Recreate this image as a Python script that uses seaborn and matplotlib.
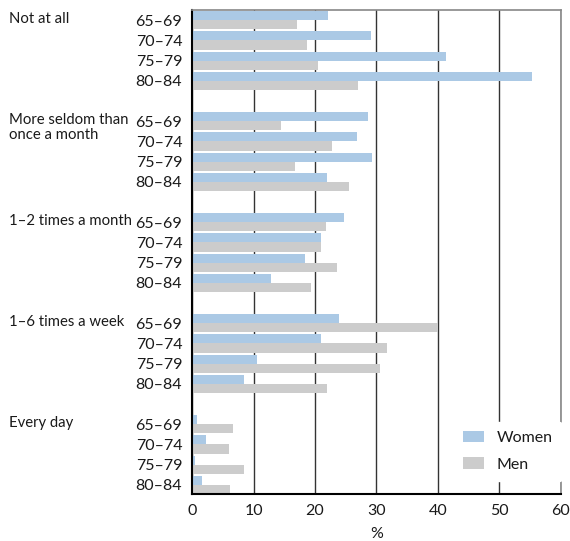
import numpy as np
import pandas as pd
from matplotlib import pyplot as plt
from matplotlib.transforms import blended_transform_factory
import seaborn as sns

# how often respondents do the activity, by age group and gender (%)
categories = ["Not at all", "More seldom than\nonce a month", "1\u20132 times a month",
              "1\u20136 times a week", "Every day"]
ages = ["65\u201369", "70\u201374", "75\u201379", "80\u201384"]

women = [
    [22.1, 29.1, 41.3, 55.3],
    [28.6, 26.8, 29.3, 22.0],
    [24.7, 21.0, 18.4, 12.8],
    [23.9, 21.0, 10.6, 8.5],
    [0.8, 2.3, 0.5, 1.6],
]
men = [
    [17.0, 18.7, 20.5, 27.0],
    [14.5, 22.8, 16.7, 25.5],
    [21.8, 21.0, 23.6, 19.3],
    [40.0, 31.7, 30.6, 22.0],
    [6.7, 6.0, 8.5, 6.2],
]

rows = []
for ci, cat in enumerate(categories):
    for ai, age in enumerate(ages):
        pos = ci * (len(ages) + 1) + ai
        rows.append({"pos": pos, "Age": age, "Gender": "Women", "value": women[ci][ai]})
        rows.append({"pos": pos, "Age": age, "Gender": "Men", "value": men[ci][ai]})
df = pd.DataFrame(rows)

sns.set_style("white")
plt.rcParams['font.family'] = ['Lato', 'DejaVu Sans']
fs = 11.5
txt = "#1a1a1a"

fig = plt.figure(figsize=(5.7, 5.41), dpi=100)
ax = fig.add_axes([0.337, 0.087, 0.647, 0.895])

sns.barplot(data=df, x="value", y="pos", hue="Gender", orient="h", native_scale=True,
            palette={"Women": "#abc9e5", "Men": "#cccccc"}, width=0.9,
            saturation=1, linewidth=0, ax=ax, legend=True)

ax.set_xlim(0, 60)
ax.set_ylim(23.45, -0.52)
ax.set_xticks(range(0, 61, 10))
ax.xaxis.grid(True, color="#333333", linewidth=1.0)
ax.set_axisbelow(True)

ax.set_yticks(df["pos"].unique())
ax.set_yticklabels(ages * len(categories))
ax.tick_params(axis="both", length=0, labelsize=fs, colors=txt)
ax.tick_params(axis="y", pad=7)
ax.tick_params(axis="x", pad=7)
ax.set_ylabel("")
ax.set_xlabel("%", fontsize=fs, color=txt, labelpad=7)

for side in ["left", "bottom"]:
    ax.spines[side].set_color("black")
    ax.spines[side].set_linewidth(1.5)
for side in ["top", "right"]:
    ax.spines[side].set_color("#888888")
    ax.spines[side].set_linewidth(1.2)

trans = blended_transform_factory(fig.transFigure, ax.transData)
for ci, cat in enumerate(categories):
    ax.text(9 / 570, ci * (len(ages) + 1) - 0.42, cat, transform=trans, ha="left", va="top",
            fontsize=10.7, color=txt, linespacing=1.15)

leg = ax.legend(loc="lower right", bbox_to_anchor=(1.025, 0.01), frameon=True, fontsize=fs,
                handlelength=1.3, handleheight=0.7, labelspacing=0.75, borderpad=0.6,
                handletextpad=0.8)
leg.get_frame().set_facecolor("white")
leg.get_frame().set_edgecolor("white")
leg.get_frame().set_alpha(1)
for t in leg.get_texts():
    t.set_color(txt)

fig.savefig("out.png", dpi=100)
